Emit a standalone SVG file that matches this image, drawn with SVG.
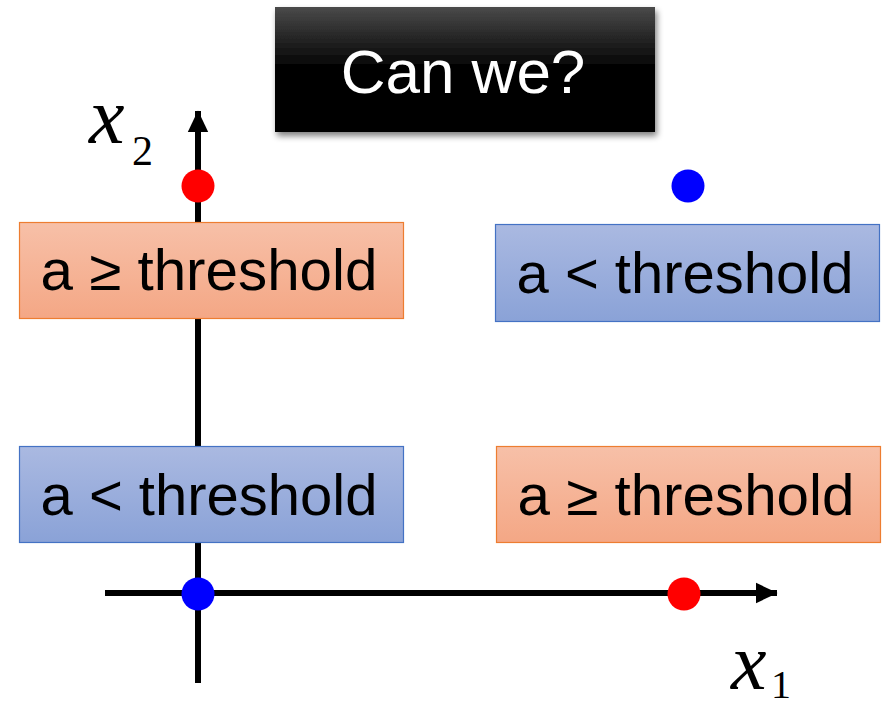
<svg xmlns="http://www.w3.org/2000/svg" width="885" height="711" viewBox="0 0 885 711">
<style>
.lbl{font-family:"Liberation Sans",Arial,sans-serif;font-size:57px;fill:#000;text-anchor:middle}
.ax{stroke:#000;stroke-width:6;fill:none}
.math{font-family:"Liberation Serif","Times New Roman",serif;fill:#000}
</style>
<defs>
<linearGradient id="gO" x1="0" y1="0" x2="0" y2="1"><stop offset="0" stop-color="#F7C0A8"/><stop offset="1" stop-color="#F4A785"/></linearGradient>
<linearGradient id="gB" x1="0" y1="0" x2="0" y2="1"><stop offset="0" stop-color="#AAB9E1"/><stop offset="1" stop-color="#8AA2D7"/></linearGradient>
<linearGradient id="gT" x1="0" y1="0" x2="0" y2="1"><stop offset="0" stop-color="#4a4a4a"/><stop offset="0.5" stop-color="#000"/><stop offset="1" stop-color="#000"/></linearGradient>
<filter id="sh" x="-10%" y="-10%" width="130%" height="140%"><feGaussianBlur in="SourceAlpha" stdDeviation="3"/><feOffset dx="2" dy="4"/><feComponentTransfer><feFuncA type="linear" slope="0.5"/></feComponentTransfer><feMerge><feMergeNode/><feMergeNode in="SourceGraphic"/></feMerge></filter>
<marker id="arr" markerWidth="4" markerHeight="4" refX="3.5" refY="2" orient="auto" markerUnits="strokeWidth" viewBox="0 0 4 4"><path d="M0,0.3 L3.6,2 L0,3.7 Z" fill="#000"/></marker>
</defs>
<g id="connectors">
<line class="ax" x1="198" y1="683" x2="198" y2="111" marker-end="url(#arr)"/>
<line class="ax" x1="105" y1="593" x2="777" y2="593" marker-end="url(#arr)"/>
</g>
<g id="title">
<rect x="275" y="7" width="380" height="125" fill="url(#gT)" filter="url(#sh)"/>
<text x="463" y="93" font-family="Liberation Sans,Arial,sans-serif" font-size="62" fill="#fff" text-anchor="middle">Can we?</text>
</g>
<g id="box-tl">
<rect x="19.5" y="222.5" width="384" height="96" fill="url(#gO)" stroke="#ED7D31" stroke-width="1.2"/>
<text class="lbl" x="209" y="290" textLength="337" lengthAdjust="spacingAndGlyphs">a ≥ threshold</text>
</g>
<g id="box-tr">
<rect x="495.5" y="224.5" width="384" height="97" fill="url(#gB)" stroke="#4472C4" stroke-width="1.2"/>
<text class="lbl" x="685" y="293" textLength="337" lengthAdjust="spacingAndGlyphs">a &lt; threshold</text>
</g>
<g id="box-bl">
<rect x="19.5" y="446.5" width="384" height="96" fill="url(#gB)" stroke="#4472C4" stroke-width="1.2"/>
<text class="lbl" x="209" y="515" textLength="337" lengthAdjust="spacingAndGlyphs">a &lt; threshold</text>
</g>
<g id="box-br">
<rect x="496.5" y="446.5" width="384" height="96" fill="url(#gO)" stroke="#ED7D31" stroke-width="1.2"/>
<text class="lbl" x="686" y="515" textLength="337" lengthAdjust="spacingAndGlyphs">a ≥ threshold</text>
</g>
<g id="points">
<circle cx="198" cy="186" r="16.5" fill="#FF0000"/>
<circle cx="688" cy="186" r="16.5" fill="#0000FF"/>
<circle cx="198" cy="594" r="16.5" fill="#0000FF"/>
<circle cx="684" cy="594" r="16.5" fill="#FF0000"/>
</g>
<g id="label-x2">
<text class="math" x="89" y="143" font-size="80" font-style="italic">x</text>
<text class="math" x="132" y="165" font-size="42">2</text>
</g>
<g id="label-x1">
<text class="math" x="731" y="689" font-size="80" font-style="italic">x</text>
<text class="math" x="771" y="698" font-size="40">1</text>
</g>
</svg>
